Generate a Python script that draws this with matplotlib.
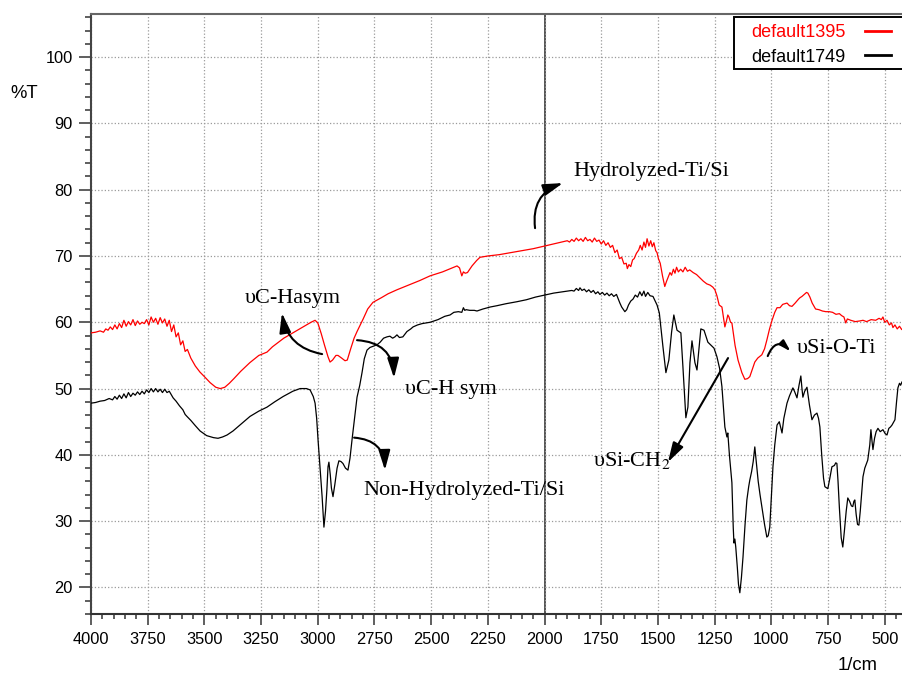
import matplotlib
matplotlib.use('Agg')
import matplotlib.pyplot as plt
from matplotlib.ticker import MultipleLocator
from matplotlib.patches import Rectangle

plt.rcParams['font.family'] = ['Liberation Sans', 'DejaVu Sans']
plt.rcParams['mathtext.fontset'] = 'stix'

# FT-IR spectra, wavenumber (1/cm) vs %T
wn_red = [4000, 3980, 3960, 3945, 3935, 3925, 3915, 3905, 3895, 3885, 3875, 3865, 3855, 3845,
          3835, 3825, 3815, 3805, 3795, 3785, 3775, 3765, 3755, 3745, 3735, 3725, 3715, 3705,
          3695, 3685, 3675, 3665, 3655, 3645, 3635, 3625, 3615, 3605, 3595, 3585, 3575, 3560,
          3540, 3520, 3500, 3475, 3450, 3430, 3410, 3390, 3370, 3340, 3300, 3260, 3224, 3200,
          3150, 3100, 3060, 3030, 3012, 3000, 2985, 2970, 2955, 2946, 2935, 2920, 2911, 2895,
          2880, 2870, 2855, 2840, 2827, 2800, 2780, 2757, 2720, 2690, 2651, 2600, 2550, 2505,
          2450, 2400, 2386, 2375, 2365, 2358, 2350, 2340, 2320, 2300, 2285, 2250, 2200, 2150,
          2100, 2050, 2000, 1950, 1900, 1890, 1880, 1870, 1860, 1850, 1840, 1830, 1820, 1810,
          1800, 1790, 1780, 1770, 1760, 1750, 1740, 1730, 1720, 1710, 1700, 1690, 1680, 1670,
          1660, 1650, 1640, 1635, 1628, 1620, 1612, 1605, 1595, 1585, 1578, 1570, 1562, 1555,
          1548, 1540, 1532, 1525, 1518, 1510, 1504, 1498, 1490, 1480, 1470, 1462, 1455, 1447,
          1440, 1432, 1425, 1418, 1410, 1400, 1390, 1380, 1370, 1360, 1345, 1330, 1315, 1300,
          1285, 1270, 1258, 1249, 1240, 1230, 1218, 1205, 1198, 1192, 1187, 1180, 1174, 1160,
          1147, 1130, 1117, 1105, 1095, 1073, 1060, 1042, 1030, 1020, 1008, 997, 985, 975,
          962, 950, 931, 920, 909, 895, 880, 874, 865, 855, 845, 839, 830, 820, 805, 790,
          775, 760, 745, 730, 715, 700, 690, 680, 672, 665, 650, 630, 610, 596, 580, 560,
          540, 525, 515, 508, 500, 490, 480, 470, 464, 455, 445, 435, 425, 415, 400]
t_red = [58.4, 58.5, 58.7, 58.5, 59.0, 58.8, 59.3, 58.9, 59.6, 59.0, 59.8, 59.2, 60.3, 59.4,
         60.1, 59.6, 60.4, 59.5, 60.2, 59.7, 60.0, 59.8, 60.4, 59.6, 60.8, 60.0, 60.6, 59.7,
         60.7, 59.9, 60.5, 59.4, 60.3, 58.6, 59.6, 57.8, 58.4, 56.6, 57.2, 55.6, 55.9, 54.6,
         53.4, 52.5, 51.8, 50.9, 50.2, 50.0, 50.2, 50.8, 51.5, 52.6, 53.9, 55.0, 55.5, 56.3,
         57.6, 58.6, 59.4, 60.0, 60.3, 59.9, 58.3, 56.5, 54.8, 54.0, 54.3, 55.0, 55.0, 54.6,
         54.2, 54.3, 56.0, 57.6, 58.6, 60.5, 62.0, 63.0, 63.7, 64.3, 64.9, 65.6, 66.3, 67.0,
         67.6, 68.3, 68.5, 68.2, 67.0, 67.6, 67.4, 67.5, 68.5, 69.3, 69.8, 70.0, 70.2, 70.5,
         70.8, 71.1, 71.5, 71.9, 72.3, 72.1, 72.5, 72.2, 72.7, 72.3, 72.6, 72.2, 72.8, 72.3,
         72.5, 72.1, 72.7, 72.2, 72.4, 71.8, 72.3, 71.6, 72.0, 71.3, 71.6, 70.5, 70.9, 69.6,
         69.8, 68.8, 68.9, 68.1, 68.7, 68.4, 69.4, 69.6, 70.4, 70.9, 71.6, 70.9, 72.1, 71.3,
         72.6, 71.5, 72.3, 71.4, 72.0, 70.8, 70.5, 69.6, 68.9, 67.0, 65.4, 66.2, 66.8, 67.5,
         67.1, 68.0, 67.4, 68.3, 67.6, 68.0, 67.6, 68.3, 67.7, 67.9, 67.5, 67.2, 66.7, 66.2,
         65.8, 65.6, 65.3, 64.9, 64.0, 62.6, 62.3, 59.3, 60.2, 61.1, 60.8, 60.0, 59.9, 56.5,
         54.3, 52.4, 51.4, 51.5, 51.8, 54.0, 54.6, 55.1, 56.0, 57.3, 59.0, 60.3, 61.5, 62.2,
         62.2, 62.7, 62.9, 62.5, 62.4, 62.9, 63.5, 63.7, 63.9, 64.2, 64.5, 64.4, 63.8, 62.9,
         62.0, 61.9, 61.7, 61.6, 61.6, 61.5, 61.2, 61.3, 61.0, 60.8, 59.9, 60.5, 60.3, 60.1,
         60.2, 60.3, 60.1, 60.4, 60.3, 60.6, 60.4, 60.8, 60.0, 60.3, 59.6, 59.9, 59.2, 59.6,
         59.0, 59.4, 58.9, 59.2, 59.0]

wn_black = [4000, 3980, 3960, 3940, 3920, 3905, 3895, 3885, 3875, 3865, 3855, 3845, 3835, 3825,
            3815, 3805, 3795, 3785, 3775, 3765, 3755, 3745, 3735, 3725, 3715, 3705, 3695, 3685,
            3675, 3665, 3655, 3645, 3638, 3625, 3610, 3595, 3585, 3577, 3560, 3540, 3519, 3490,
            3460, 3440, 3420, 3400, 3374, 3340, 3299, 3260, 3224, 3190, 3153, 3110, 3078, 3050,
            3034, 3020, 3012, 3005, 2999, 2990, 2981, 2973, 2966, 2960, 2955, 2951, 2945, 2940,
            2933, 2925, 2915, 2907, 2898, 2889, 2878, 2867, 2858, 2849, 2838, 2827, 2815, 2805,
            2795, 2783, 2770, 2755, 2739, 2725, 2710, 2695, 2682, 2670, 2660, 2651, 2640, 2625,
            2607, 2590, 2580, 2560, 2540, 2505, 2470, 2440, 2417, 2400, 2380, 2365, 2358, 2352,
            2346, 2330, 2310, 2298, 2272, 2240, 2210, 2170, 2122, 2080, 2040, 2000, 1960, 1920,
            1880, 1870, 1860, 1850, 1844, 1835, 1825, 1815, 1805, 1795, 1785, 1775, 1765, 1756,
            1745, 1735, 1725, 1715, 1705, 1695, 1683, 1675, 1668, 1660, 1650, 1646, 1638, 1630,
            1620, 1610, 1600, 1590, 1580, 1571, 1562, 1555, 1545, 1535, 1522, 1515, 1504, 1494,
            1478, 1465, 1452, 1440, 1430, 1416, 1399, 1390, 1377, 1368, 1359, 1350, 1337, 1328,
            1311, 1297, 1280, 1253, 1240, 1228, 1218, 1205, 1196, 1192, 1185, 1174, 1168, 1165,
            1161, 1157, 1150, 1145, 1139, 1132, 1125, 1116, 1108, 1100, 1095, 1087, 1080, 1073,
            1065, 1058, 1050, 1042, 1030, 1020, 1014, 1007, 1000, 993, 985, 975, 965, 953,
            945, 931, 920, 905, 897, 887, 878, 870, 865, 861, 853, 843, 832, 821, 810, 799,
            792, 786, 778, 770, 764, 751, 742, 733, 722, 716, 711, 706, 700, 692, 685, 678,
            670, 663, 655, 647, 641, 636, 632, 626, 620, 614, 608, 600, 596, 588, 575, 566,
            561, 556, 552, 545, 538, 530, 520, 508, 498, 490, 482, 475, 468, 460, 455, 448,
            442, 435, 430, 424, 415, 405, 400]
t_black = [47.8, 47.9, 48.1, 48.2, 48.5, 48.3, 48.8, 48.4, 49.0, 48.5, 49.2, 48.6, 49.4, 48.8,
           49.3, 49.0, 49.5, 49.1, 49.6, 49.2, 49.8, 49.4, 50.0, 49.5, 50.0, 49.5, 49.9, 49.4,
           49.9, 49.4, 49.6, 49.0, 48.6, 48.1, 47.4, 46.8, 46.1, 45.8, 45.2, 44.4, 43.6, 42.9,
           42.6, 42.5, 42.7, 43.0, 43.6, 44.6, 45.8, 46.6, 47.2, 48.0, 48.8, 49.6, 50.0, 50.0,
           49.8, 48.8, 47.8, 45.5, 42.3, 38.0, 33.7, 29.1, 31.5, 34.7, 38.2, 38.9, 37.0, 35.0,
           33.7, 35.5, 38.0, 39.1, 39.0, 38.7, 38.0, 37.7, 39.5, 42.3, 45.5, 48.7, 50.5, 52.4,
           54.5, 55.8, 56.2, 56.4, 56.6, 57.0, 57.6, 57.8, 57.9, 57.6, 57.8, 58.1, 57.7, 57.8,
           58.6, 59.0, 59.3, 59.6, 59.8, 60.0, 60.4, 60.9, 61.1, 61.5, 61.6, 61.5, 62.2, 61.8,
           61.9, 61.8, 61.8, 61.7, 62.0, 62.3, 62.5, 62.8, 63.1, 63.4, 63.8, 64.1, 64.4, 64.6,
           64.8, 64.7, 65.1, 64.8, 65.2, 64.8, 65.0, 64.6, 64.9, 64.5, 64.8, 64.3, 64.6, 64.2,
           64.5, 64.1, 64.4, 64.0, 64.3, 63.9, 64.2, 63.5, 62.9, 62.3, 61.8, 61.6, 61.9, 62.6,
           63.2, 63.5, 64.1, 63.8, 64.6, 64.0, 64.7, 63.9, 64.5, 64.0, 63.9, 63.4, 62.6, 61.4,
           56.3, 52.4, 54.3, 58.5, 61.1, 58.8, 58.4, 53.3, 45.6, 47.2, 53.9, 57.2, 53.9, 52.8,
           59.0, 58.8, 57.0, 56.1, 54.8, 53.0, 50.3, 44.2, 42.7, 43.3, 40.0, 35.8, 29.0, 26.7,
           27.3, 26.1, 23.0, 20.5, 19.2, 21.5, 24.6, 29.5, 33.2, 35.2, 36.2, 37.5, 39.0, 41.2,
           38.5, 36.0, 34.0, 32.2, 29.5, 27.6, 27.8, 29.1, 33.5, 38.2, 41.5, 44.5, 45.0, 43.3,
           45.5, 47.8, 48.9, 50.1, 49.5, 48.6, 50.5, 51.9, 50.0, 48.7, 49.6, 50.2, 47.5, 45.3,
           46.0, 46.3, 45.5, 44.2, 40.0, 36.5, 35.2, 34.9, 36.5, 38.2, 38.4, 38.8, 38.7, 36.0,
           32.0, 27.5, 26.1, 28.5, 31.5, 33.5, 33.0, 32.3, 32.2, 33.0, 33.2, 31.0, 29.5, 29.4,
           31.5, 35.0, 36.7, 38.0, 39.2, 41.5, 43.8, 42.0, 40.8, 42.5, 43.5, 44.0, 43.5, 43.8,
           43.2, 43.0, 44.0, 44.2, 44.5, 45.0, 45.3, 48.0, 50.1, 50.8, 50.5, 51.0, 51.3, 52.0,
           51.8]

x_ticks = [4000, 3750, 3500, 3250, 3000, 2750, 2500, 2250, 2000, 1750, 1500, 1250, 1000, 750, 500]
y_ticks = [20, 30, 40, 50, 60, 70, 80, 90, 100]

fig = plt.figure(figsize=(9.03, 6.73), dpi=100)
ax = fig.add_axes([0.1008, 0.0877, 0.9041, 0.8915])

ax.plot(wn_red, t_red, color='#ff0000', lw=0.9, label='default1395', zorder=3)
ax.plot(wn_black, t_black, color='black', lw=0.9, label='default1749', zorder=3)

ax.set_xlim(4000, 400)
ax.set_ylim(16.0, 106.5)
ax.set_xticks(x_ticks)
ax.set_yticks(y_ticks)
ax.xaxis.set_minor_locator(MultipleLocator(50))
ax.yaxis.set_minor_locator(MultipleLocator(2))
ax.tick_params(axis='both', which='major', labelsize=11.8, width=1.1, color='#333')
ax.tick_params(axis='y', which='major', length=9, pad=4)
ax.tick_params(axis='x', which='major', length=8, pad=5)
ax.tick_params(axis='y', which='minor', length=4.5, width=1.1, color='#333')
ax.tick_params(axis='x', which='minor', length=3.8, width=1.1, color='#333')
ax.tick_params(top=False, right=False)

ax.grid(True, which='major', linestyle=':', color='#9a9a9a', lw=0.9, zorder=0)
ax.axvline(2000, color='#444444', lw=1.3, zorder=1)

ax.spines['right'].set_visible(False)
ax.spines['top'].set_color('#666666')
ax.spines['top'].set_linewidth(1.5)
ax.spines['left'].set_color('#444444')
ax.spines['left'].set_linewidth(1.5)
ax.spines['bottom'].set_color('#333333')
ax.spines['bottom'].set_linewidth(1.5)

# legend box runs off the right edge like in the original
ax.add_patch(Rectangle((0.7876, 0.9083), 0.23, 0.0867, transform=ax.transAxes,
                       facecolor='white', edgecolor='black', lw=1.4, clip_on=False, zorder=4.5))
leg = ax.legend(loc='upper left', bbox_to_anchor=(0.8084, 0.983), markerfirst=False,
                fontsize=13, frameon=False, borderaxespad=0, borderpad=0,
                handlelength=1.45, handletextpad=1.1, labelspacing=0.42)
leg.set_zorder(5)
for txt, c in zip(leg.get_texts(), ['#ff0000', 'black']):
    txt.set_color(c)
for ln in leg.get_lines():
    ln.set_linewidth(2)

fig.text(0.011, 1 - 93 / 673, '%T', fontsize=13.3, va='center', ha='left')
fig.text(0.928, 1 - 666 / 673, '1/cm', fontsize=13.3, va='center', ha='left')

# band labels
serif = ['Liberation Serif', 'DejaVu Serif']
ax.text(3321, 62.9, 'υC-Hasym', family=serif, fontsize=16, va='baseline')
ax.text(2615, 49.2, 'υC-H sym', family=serif, fontsize=16, va='baseline')
ax.text(2801, 34.0, 'Non-Hydrolyzed-Ti/Si', family=serif, fontsize=16, va='baseline')
ax.text(1875, 82.1, 'Hydrolyzed-Ti/Si', family=serif, fontsize=16, va='baseline')
ax.text(1786, 38.3, 'υSi-CH$_2$', family=serif, fontsize=16, va='baseline')
ax.text(887, 55.4, 'υSi-O-Ti', family=serif, fontsize=16, va='baseline')

arrow = dict(arrowstyle='-|>,head_length=0.85,head_width=0.25', color='black', lw=1.5,
             shrinkA=0, shrinkB=0, mutation_scale=14)
ax.annotate('', xy=(3158, 61.4), xytext=(2981, 55.2),
            arrowprops=dict(arrow, connectionstyle='arc3,rad=-0.35'))
ax.annotate('', xy=(2664, 51.6), xytext=(2827, 57.3),
            arrowprops=dict(arrow, connectionstyle='arc3,rad=-0.45'))
ax.annotate('', xy=(2704, 37.7), xytext=(2840, 42.6),
            arrowprops=dict(arrow, connectionstyle='arc3,rad=-0.45'))
ax.annotate('', xy=(1919, 81.0), xytext=(2042, 74.2),
            arrowprops=dict(arrow, connectionstyle='arc3,rad=-0.4'))
ax.annotate('', xy=(1456, 38.9), xytext=(1191, 54.6), arrowprops=arrow)
ax.annotate('', xy=(915, 55.6), xytext=(1016, 54.9),
            arrowprops=dict(arrow, mutation_scale=8, connectionstyle='arc3,rad=-0.75'))

fig.savefig('out.png', dpi=100)
